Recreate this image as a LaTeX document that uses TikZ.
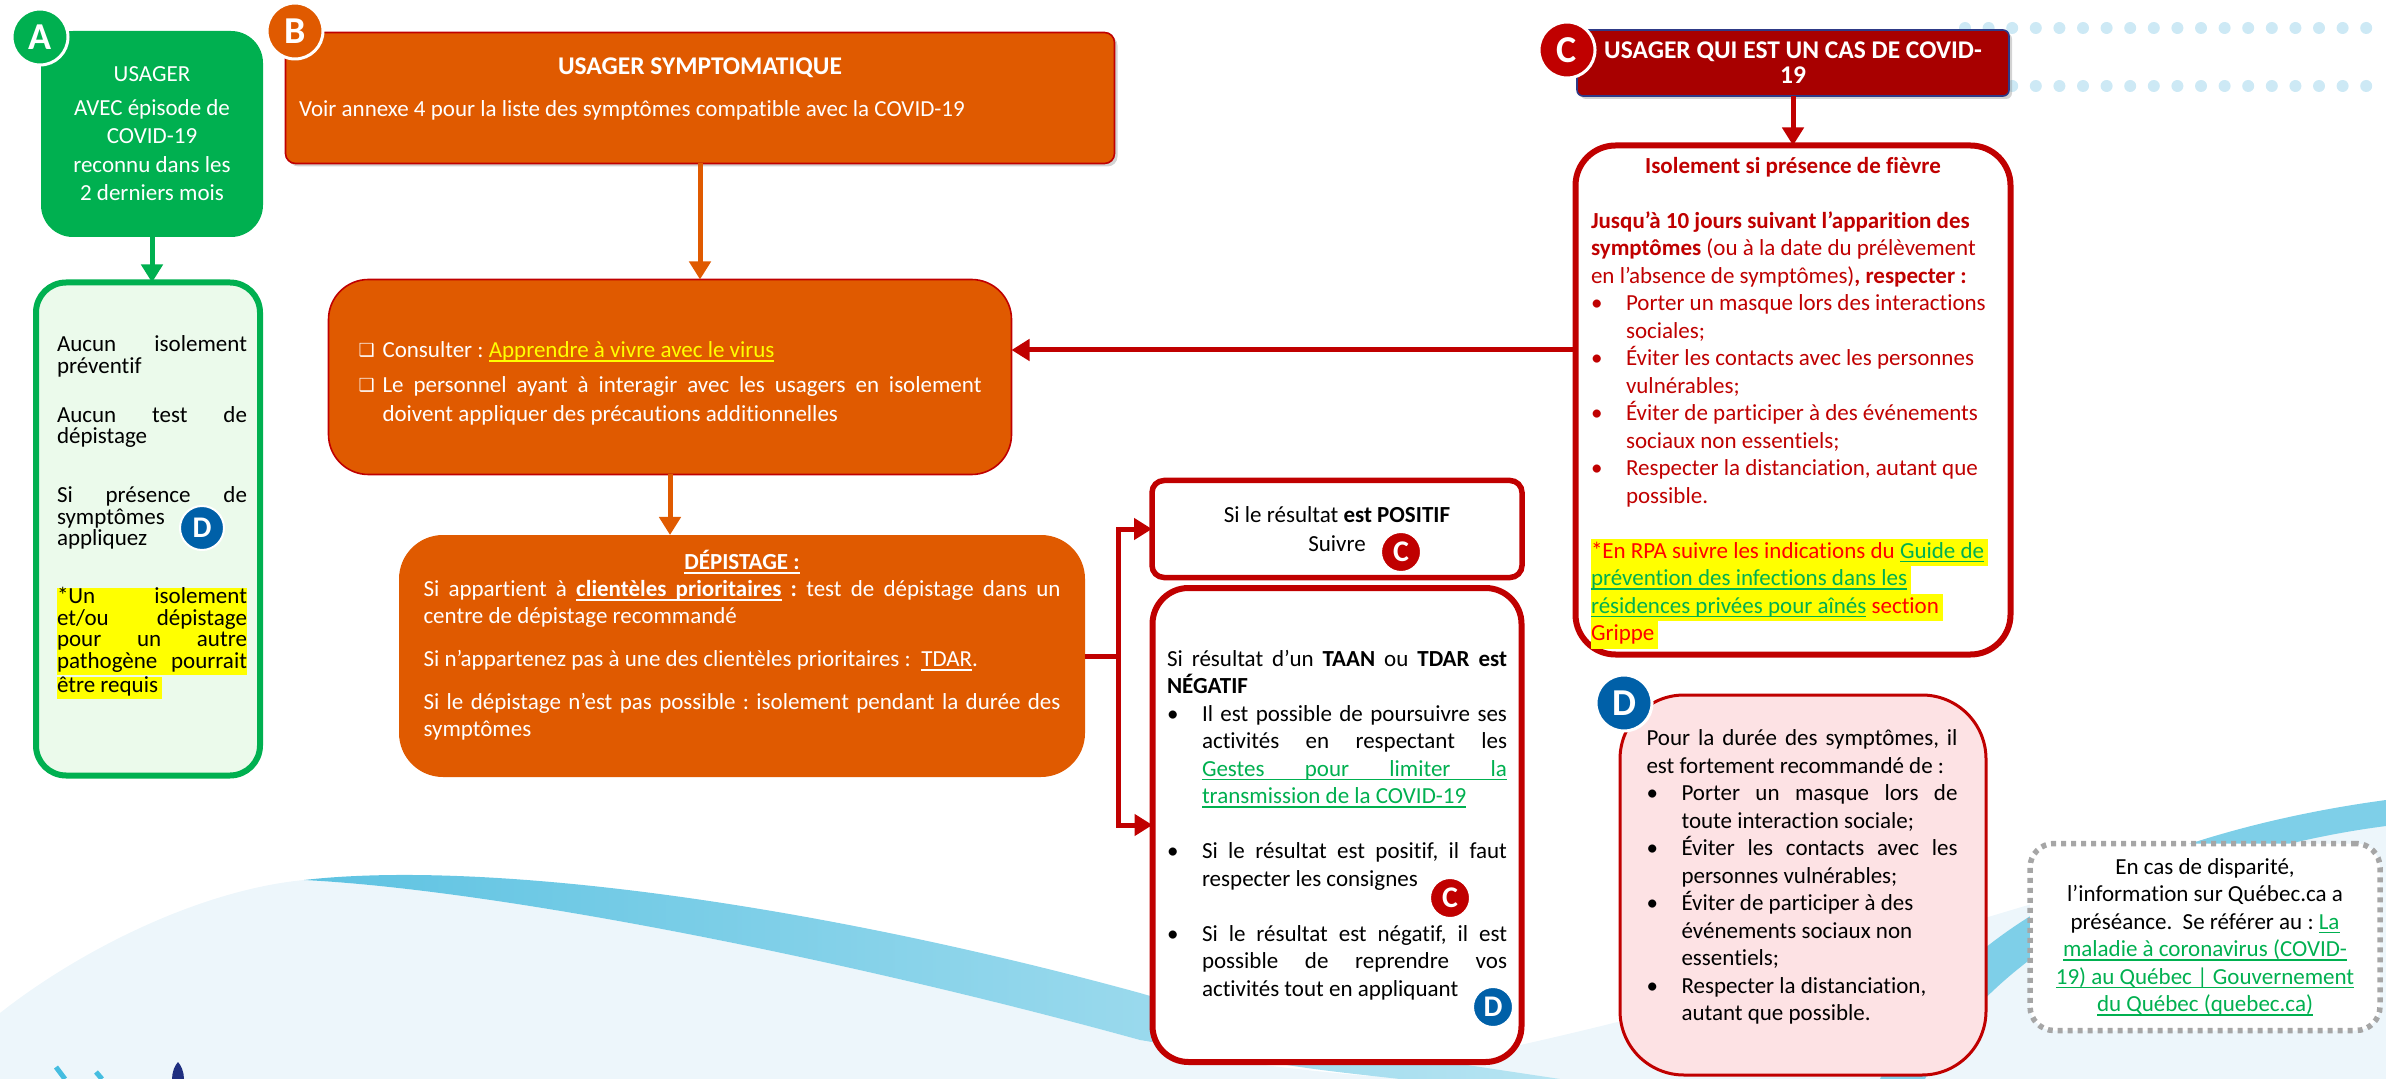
\documentclass[tikz,border=0pt]{standalone}
\usepackage{fontspec}
\setmainfont{Carlito}[Ligatures=NoCommon]
\newfontfamily\dejavu{DejaVu Sans}
\usetikzlibrary{arrows.meta,shadows}
\hyphenpenalty=10000
\exhyphenpenalty=10000
\frenchspacing

\definecolor{vert}{HTML}{00B050}
\definecolor{vertpale}{HTML}{EBFAEB}
\definecolor{orangeB}{HTML}{E05A00}
\definecolor{rouge}{HTML}{C00000}
\definecolor{rougeF}{HTML}{A80000}
\definecolor{rouvif}{HTML}{FF0000}
\definecolor{bordC}{HTML}{2E3A87}
\definecolor{bleuD}{HTML}{0060A8}
\definecolor{rose}{HTML}{FDE2E4}
\definecolor{jaune}{HTML}{FFFF00}
\definecolor{lien}{HTML}{00B050}
\definecolor{gris}{HTML}{A6A6A6}
\definecolor{ciel}{HTML}{CDE9F5}
\definecolor{vague}{HTML}{5EC3E2}
\definecolor{pale}{HTML}{EDF6FB}
\definecolor{logocyan}{HTML}{45BDE0}
\definecolor{logobleu}{HTML}{1F2F80}

\newlength\pucew
\setlength\pucew{17.5pt}
\newcommand\espnormal{\spaceskip=0pt\xspaceskip=0pt\relax}
\newcommand\puce[1]{\par\hangindent=\pucew\hangafter=1\noindent\makebox[\pucew][l]{\textbullet}#1\par}
\newcommand\caseitem[1]{\par\hangindent=12pt\hangafter=1\noindent\makebox[12pt][l]{\raisebox{0.5pt}{\dejavu\fontsize{9}{9}\selectfont ❑}}#1\par}
\newcommand\surligne[1]{{\setlength\fboxsep{0pt}\colorbox{jaune}{\strut#1\kern2pt}}}
\newcommand\surlignej[1]{{\setlength\fboxsep{0pt}\colorbox{jaune}{\makebox[\linewidth][s]{\strut#1}}}}
% soulignement mot par mot (coupure de ligne possible)
\newcommand\ulmot[1]{\setbox0\hbox{#1}\rlap{\vrule height -1.2pt depth 2.1pt width \wd0}\box0}
\newcommand\ulesp{\leaders\vrule height -1.2pt depth 2.1pt\hskip\fontdimen2\font plus\fontdimen3\font minus\fontdimen4\font}
\makeatletter
\def\ulien#1{\ul@mots#1 \ul@fin}
\def\ul@mots#1 #2\ul@fin{\ulmot{#1}\ifx\relax#2\relax\else\ulesp\ul@mots#2\ul@fin\fi}
\makeatother
\newcommand\lien[1]{\textcolor{lien}{\ulien{#1}}}

\begin{document}
\begin{tikzpicture}[x=0.5pt,y=-0.5pt,
  every node/.style={inner sep=0pt, outer sep=0pt},
  corps/.style={font=\fontsize{11.5}{13.75}\selectfont},
  fleche/.style={line width=2.5pt, -{Triangle[length=9pt,width=10.5pt]}},
  pastille/.style={circle, draw=white, line width=1.5pt, text=white, minimum size=28pt, font=\bfseries\fontsize{19}{19}\selectfont},
  petitepastille/.style={circle, draw=white, line width=1pt, text=white, minimum size=20pt, font=\bfseries\fontsize{15}{15}\selectfont},
  ombre/.style={drop shadow={shadow xshift=1.5pt, shadow yshift=-1.5pt, opacity=.35}}]
  \useasboundingbox (0,0) rectangle (2386,1079);

  % fond
  \fill[pale] (0,1079) -- (0,1013) .. controls (80,950) and (200,890) .. (304,880)
    .. controls (500,890) and (850,960) .. (1140,1040) .. controls (1250,1065) .. (1400,1079) -- cycle;
  \fill[pale] (1350,1079) .. controls (1800,1000) and (2100,860) .. (2386,818) -- (2386,1079) -- cycle;
  \shade[left color=vague, right color=vague!45] (304,880) .. controls (480,860) and (800,900) .. (1140,993)
    .. controls (1300,1040) .. (1560,1079) -- (1400,1079) .. controls (1300,1068) .. (1140,1040)
    .. controls (850,960) and (500,890) .. (304,880) -- cycle;
  \fill[vague!80] (1880,1079) .. controls (1960,900) and (2200,825) .. (2386,800)
    -- (2386,826) .. controls (2200,850) and (2000,935) .. (1925,1079) -- cycle;
  \foreach \i in {0,...,17} {
    \fill[ciel] (1965+23.6*\i,28) circle (3pt);
    \fill[ciel] (1965+23.6*\i,86) circle (3pt);
  }
  \draw[logocyan, line width=2.5pt] (56,1067) -- (65,1079);
  \draw[logocyan, line width=2.5pt] (96,1072) -- (102,1079);
  \fill[logobleu] (172,1079) .. controls (172,1072) and (175,1065) .. (178,1062)
    .. controls (181,1065) and (184,1072) .. (184,1079) -- cycle;

  % A
  \node[fill=vert, rounded corners=16pt, minimum width=111pt, minimum height=103pt,
    text=white, text width=104pt, align=flush center, font=\fontsize{11.5}{14.25}\selectfont]
    (A) at (152,134) {\espnormal USAGER\\[2.5pt] AVEC épisode de\\ COVID-19\\ reconnu dans les\\ 2 derniers mois};
  \node[draw=vert, line width=3pt, fill=vertpale, rounded corners=15pt, minimum width=112pt, minimum height=246.5pt]
    (A2) at (148,529) {};
  \node[anchor=north, text width=95pt, align=justify, font=\fontsize{11.5}{10.75}\selectfont]
    (A2txt) at (152,336) {\lineskiplimit=-5pt Aucun isolement préventif\par\vspace{13.75pt}
    Aucun test de dépistage\par\vspace{18.75pt}
    Si présence de symptômes\newline appliquez\par\vspace{18.25pt}
    \surlignej{*Un isolement}\par
    \surlignej{et/ou dépistage}\par
    \surlignej{pour un autre}\par
    \surlignej{pathogène pourrait}\par
    \surligne{être requis}};

  % B
  \node[fill=orangeB, draw=rouge, line width=0.8pt, rounded corners=5pt, ombre,
    minimum width=414.5pt, minimum height=65.5pt, text=white, text width=401pt, align=flush left, corps]
    (B) at (700,98) {\espnormal\makebox[\linewidth]{\bfseries\fontsize{12.75}{15}\selectfont USAGER SYMPTOMATIQUE}\par\vspace{7pt}
    Voir annexe 4 pour la liste des symptômes compatible avec la COVID-19\par\vspace*{9pt}};
  \node[fill=orangeB, draw=rouge, line width=0.8pt, rounded corners=20pt,
    minimum width=341.5pt, minimum height=97.5pt, text=white, text width=311.5pt, align=justify,
    font=\fontsize{11.5}{14.5}\selectfont]
    (B2) at (670,377) {\caseitem{Consulter : \textcolor{jaune}{\ulien{Apprendre à vivre avec le virus}}}\vspace{3pt}
    \caseitem{Le personnel ayant à interagir avec les usagers en isolement doivent appliquer des précautions additionnelles}};
  \node[fill=orangeB, rounded corners=22pt, minimum width=343pt, minimum height=121pt,
    text=white, text width=318.5pt, align=justify, font=\fontsize{11.5}{13.5}\selectfont]
    (B3) at (742,656) {\makebox[\linewidth]{\bfseries\ulien{DÉPISTAGE :}}\par
    Si appartient à \textbf{\ulien{clientèles prioritaires}} \textbf{:} test de dépistage dans un centre de dépistage recommandé\par\vspace{8pt}
    Si n’appartenez pas à une des clientèles prioritaires :~ \ulien{TDAR}.\par\vspace{8pt}
    Si le dépistage n’est pas possible : isolement pendant la durée des symptômes\par\vspace*{11pt}};
  \node[draw=rouge, line width=2.75pt, fill=white, rounded corners=6pt, minimum width=185pt, minimum height=48.5pt,
    text width=170pt, align=flush center, font=\fontsize{11.5}{14.5}\selectfont]
    (P) at (1337,529) {\espnormal Si le résultat \textbf{est POSITIF}\\ Suivre};
  \node[draw=rouge, line width=3pt, fill=white, rounded corners=18pt, minimum width=184.5pt, minimum height=237pt,
    text width=170pt, align=justify, corps]
    (N) at (1337,825) {Si résultat d’un \textbf{TAAN} ou \textbf{TDAR est NÉGATIF}\par
    \puce{Il est possible de poursuivre ses activités en respectant les\linebreak \lien{Gestes pour limiter la transmission de la COVID-19}}\vspace{13.75pt}
    \puce{Si le résultat est positif, il faut respecter les consignes}\vspace{13.75pt}
    \puce{Si le résultat est négatif, il est\linebreak possible de reprendre vos\linebreak activités tout en appliquant}};

  % C
  \node[fill=rougeF, draw=bordC, line width=0.8pt, rounded corners=3pt, ombre,
    minimum width=216pt, minimum height=33pt, text=white, text width=200pt, align=flush center,
    font=\bfseries\fontsize{12.75}{12.5}\selectfont]
    (C) at (1793,63) {\espnormal USAGER QUI EST UN CAS DE COVID-\\19};
  \node[draw=rouge, line width=3pt, fill=white, rounded corners=20pt, minimum width=217.5pt, minimum height=254.5pt]
    (C1) at (1793,400) {};
  \node[anchor=north, text=rouge, text width=202pt, align=flush left, corps]
    (C1txt) at (1793,157) {\espnormal\makebox[\linewidth]{\bfseries Isolement si présence de fièvre}\par\vspace{13.75pt}
    \textbf{Jusqu’à 10 jours suivant l’apparition des}\newline \textbf{symptômes} (ou à la date du prélèvement\newline en l’absence de symptômes)\textbf{, respecter :}\par
    \puce{Porter un masque lors des interactions\newline sociales;}
    \puce{Éviter les contacts avec les personnes\newline vulnérables;}
    \puce{Éviter de participer à des événements\newline sociaux non essentiels;}
    \puce{Respecter la distanciation, autant que\newline possible.}
    \vspace{13.75pt}
    {\color{rouvif}\surligne{*En RPA suivre les indications du \lien{Guide de}}\newline
    \surligne{\lien{prévention des infections dans les}}\newline
    \surligne{\lien{résidences privées pour aînés} section}\newline
    \surligne{Grippe}}};

  % D
  \node[draw=rouge, line width=1.5pt, fill=rose, rounded corners=32pt, minimum width=183pt, minimum height=190pt]
    (D) at (1803,885) {};
  \node[anchor=north, text width=155.5pt, align=justify, corps]
    (Dtxt) at (1802,730) {Pour la durée des symptômes, il est fortement recommandé de :\par
    \puce{Porter un masque lors de toute interaction sociale;}
    \puce{Éviter les contacts avec les personnes vulnérables;}
    \puce{Éviter de participer à des\newline événements sociaux non\newline essentiels;}
    \puce{Respecter la distanciation,\newline autant que possible.}};
  \node[draw=gris, line width=2.75pt, dash pattern=on 2.5pt off 2.5pt, fill=white, rounded corners=12pt,
    minimum width=175pt, minimum height=93.5pt, text width=165pt, align=flush center, corps]
    (note) at (2205,937) {\espnormal En cas de disparité,\\ l’information sur Québec.ca a\\ préséance.~ Se référer au : \lien{La}\\
    \lien{maladie à coronavirus (COVID-}\\ \lien{19) au Québec | Gouvernement}\\ \lien{du Québec (quebec.ca)}};

  % fleches
  \draw[fleche, vert] (A.south) -- (A.south |- A2.north);
  \draw[fleche, orangeB] (B.south) -- (B.south |- B2.north);
  \draw[fleche, orangeB] (B2.south) -- (B2.south |- B3.north);
  \draw[fleche, rouge] (C.south) -- (C1.north);
  \coordinate (sortie) at (C1.west |- 0,350);
  \draw[fleche, rouge] (sortie) -- (sortie -| B2.east);
  \draw[line width=2.5pt, rouge] (B3.east) -- ++(33,0) coordinate (fourche);
  \draw[fleche, rouge] (fourche) |- (P.west);
  \draw[fleche, rouge] (fourche) |- (N.west);

  % pastilles
  \node[pastille, fill=vert] (pA) at (40,37) {A};
  \node[pastille, fill=orangeB] (pB) at (295,31) {B};
  \node[pastille, fill=rouge] (pC) at (1567,50) {C};
  \node[pastille, fill=bleuD] (pD) at (1624,703) {D};
  \node[petitepastille, fill=bleuD, minimum size=22pt] (pDa) at (202,528) {D};
  \node[petitepastille, fill=rouge] (pCp) at (1401,552) {C};
  \node[petitepastille, fill=rouge] (pCn) at (1450,898) {C};
  \node[petitepastille, fill=bleuD] (pDn) at (1493,1007) {D};
\end{tikzpicture}
\end{document}
